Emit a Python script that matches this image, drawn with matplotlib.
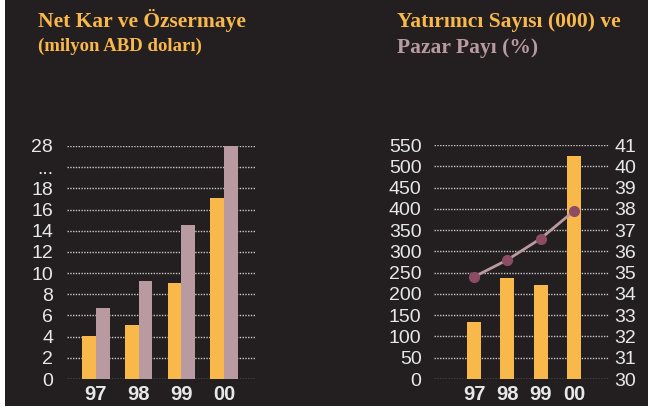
import numpy as np
import matplotlib
matplotlib.use("Agg")
import matplotlib.pyplot as plt

# data
yillar = ["97", "98", "99", "00"]
net_kar = [4.1, 5.1, 9.1, 17.1]
ozsermaye = [6.7, 9.3, 14.5, 28.0]
yatirimci = [135, 238, 220, 525]
pazar_payi = [34.8, 35.6, 36.6, 37.9]

sol_ticks = ["0", "2", "4", "6", "8", "10", "12", "14", "16", "18", "...", "28"]
sag_ticks1 = list(range(0, 551, 50))
sag_ticks2 = list(range(30, 42))

turuncu = "#f9b84a"
pembe = "#b99aa0"
koyu = "#8c4d64"
arka = "#231f20"
grid_renk = "#c8c8c8"

plt.rcParams["font.family"] = ["Liberation Sans Narrow", "Liberation Sans", "DejaVu Sans"]

fig = plt.figure(figsize=(6.48, 4.09), dpi=100, facecolor="white")
# koyu arka plan (solda ve altta ince beyaz kenar kalir)
bg = fig.add_axes([5 / 648, 3 / 409, 1, 1], zorder=-10)
bg.set_facecolor(arka)
bg.set_axis_off()
bg.add_artist(plt.Rectangle((0, 0), 1, 1, transform=bg.transAxes, color=arka))


def kir_ekseni(v):
    # broken axis: 0..20 normal, 20..28 squeezed into one step
    return np.interp(v, [0, 20, 28], [0, 10, 11])


def stil(ax):
    ax.set_facecolor("none")
    for s in ax.spines.values():
        s.set_visible(False)
    ax.set_axisbelow(True)
    ax.yaxis.grid(True, color=grid_renk, linestyle=(0, (1, 1)), linewidth=1.0)
    ax.tick_params(length=0, colors="#e8e8e8", labelsize=14)


# sol grafik
ax1 = fig.add_axes([67 / 648, 30 / 409, 188 / 648, 233 / 409])
stil(ax1)
x = np.arange(len(yillar))
w = 0.32
ax1.bar(x, kir_ekseni(net_kar), width=-w, align="edge", color=turuncu)
ax1.bar(x, kir_ekseni(ozsermaye), width=w, align="edge", color=pembe)
ax1.set_ylim(0, 11)
ax1.set_yticks(range(12))
ax1.set_yticklabels(sol_ticks)
ax1.set_xlim(-0.68, 3.73)
ax1.set_xticks(x)
ax1.set_xticklabels(yillar, fontweight="bold", fontsize=14.5)
ax1.tick_params(axis="y", pad=10)
ax1.tick_params(axis="x", pad=4)

# sag grafik
ax2 = fig.add_axes([434 / 648, 30 / 409, 175 / 648, 234 / 409])
stil(ax2)
ax2.bar(x, yatirimci, width=0.42, color=turuncu)
ax2.set_ylim(0, 550)
ax2.set_yticks(sag_ticks1)
ax2.set_xlim(-1.2, 4.05)
ax2.set_xticks(x)
ax2.set_xticklabels(yillar, fontweight="bold", fontsize=14.5)
ax2.tick_params(axis="y", pad=9)
ax2.tick_params(axis="x", pad=4)

ax3 = ax2.twinx()
for s in ax3.spines.values():
    s.set_visible(False)
ax3.plot(x, pazar_payi, color=pembe, linewidth=2, marker="o", markersize=7,
         markerfacecolor=koyu, markeredgecolor=koyu)
ax3.set_ylim(30, 41)
ax3.set_yticks(sag_ticks2)
ax3.tick_params(length=0, colors="#e8e8e8", labelsize=14, pad=4)

# basliklar
baslik = dict(family=["Liberation Serif", "DejaVu Serif"], fontweight="bold")
fig.text(38 / 648, 1 - 21 / 409, "Net Kar ve Özsermaye", color=turuncu, fontsize=15.5,
         va="center", ha="left", **baslik)
fig.text(38 / 648, 1 - 46 / 409, "(milyon ABD doları)", color=turuncu, fontsize=13.5,
         va="center", ha="left", **baslik)
fig.text(397 / 648, 1 - 22 / 409, "Yatırımcı Sayısı (000) ve", color=turuncu, fontsize=15.5,
         va="center", ha="left", **baslik)
fig.text(397 / 648, 1 - 48 / 409, "Pazar Payı (%)", color=pembe, fontsize=15.5,
         va="center", ha="left", **baslik)

fig.savefig("out.png", dpi=100, facecolor=fig.get_facecolor())
